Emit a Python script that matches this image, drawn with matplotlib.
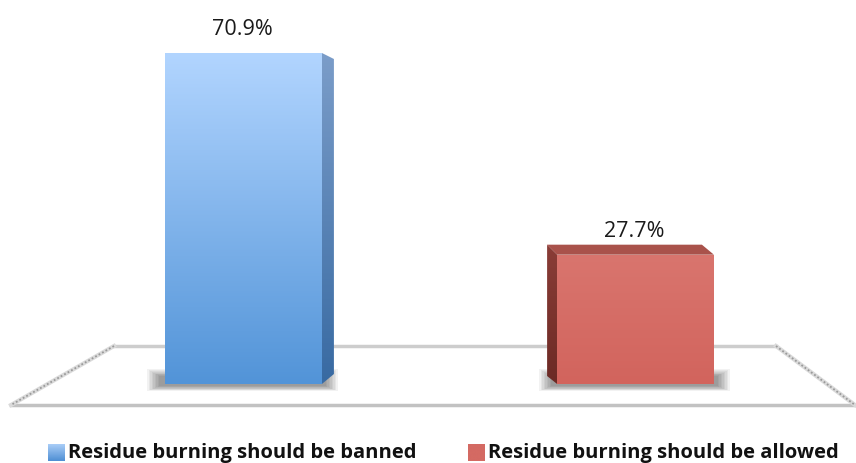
import numpy as np
import matplotlib.pyplot as plt
from matplotlib.patches import Polygon, Rectangle
from matplotlib.colors import LinearSegmentedColormap

# data
labels = ['Residue burning should be banned', 'Residue burning should be allowed']
values = [70.9, 27.7]
value_text = ['70.9%', '27.7%']

# colours (top, bottom) of each bar
front_cols = [('#b2d5ff', '#5294d8'), ('#d9756e', '#d2645d')]
side_cols = [('#7b9dc9', '#386aa2'), ('#8a3d37', '#6c2a25')]
top_cols = ['#9cc4f0', '#a9524b']

W, H = 856, 463
fig = plt.figure(figsize=(W / 100, H / 100), dpi=100)
ax = fig.add_axes([0, 0, 1, 1])
XL = (-0.6212, 1.5625)
YL = (-16.92, 82.25)
ux = (XL[1] - XL[0]) / W   # data units per pixel
uy = (YL[1] - YL[0]) / H

def P(x, y):
    # pixel (from top-left) -> axes fraction
    return (x / W, 1 - y / H)

# floor
floor = [P(114, 346), P(776, 346), P(855, 405), P(11, 405)]
ax.add_patch(Polygon(floor, closed=True, facecolor='white', edgecolor='none',
                     transform=ax.transAxes, zorder=1))
bx, by = zip(*[P(114, 346), P(776, 346)])
ax.plot(bx, by, color='#cdcdcd', lw=2.5, transform=ax.transAxes, zorder=1)
fx, fy = zip(*[P(11, 405), P(855, 405)])
ax.plot(fx, fy, color='#c2c2c2', lw=2.5, transform=ax.transAxes, zorder=1)
for a, b in [(P(114, 346), P(11, 405)), (P(776, 346), P(855, 405))]:
    ax.plot([a[0], b[0]], [a[1], b[1]], color='#dadada', lw=3, transform=ax.transAxes, zorder=1)
    ax.plot([a[0], b[0]], [a[1], b[1]], color='#9a9a9a', lw=1.3, dashes=(1, 1.2),
            transform=ax.transAxes, zorder=1)

bars = ax.bar([0, 1], values, width=0.4, color='none', linewidth=0, zorder=4)

# per bar depth geometry (pixels): side on right for first, left for second
for i, b in enumerate(bars):
    x0, w, h = b.get_x(), b.get_width(), b.get_height()
    x1 = x0 + w
    # shadow
    sl = x0 - 18 * ux
    sr = x1 + 16 * ux
    for k in range(9):
        ax.add_patch(Rectangle((sl + k * 1.5 * ux, -7 * uy + k * 0.6 * uy),
                               (sr - sl) - k * 3 * ux, (22 - k * 1.5) * uy,
                               facecolor='#000000', alpha=0.05, lw=0, zorder=2))
    # front face gradient
    cmap = LinearSegmentedColormap.from_list('f%d' % i, [front_cols[i][1], front_cols[i][0]])
    im = ax.imshow(np.linspace(1, 0, 200).reshape(-1, 1), extent=[x0, x1, 0, h],
                   cmap=cmap, vmin=0, vmax=1, aspect='auto', zorder=4)
    im.set_clip_path(b)
    if i == 0:
        side = Polygon([(x1, 0), (x1, h), (x1 + 12 * ux, h - 6 * uy),
                        (x1 + 12 * ux, 10 * uy)], closed=True, facecolor='none', lw=0, zorder=3)
        ext = [x1, x1 + 12 * ux, 0, h]
    else:
        side = Polygon([(x0, 0), (x0, h), (x0 - 10 * ux, h + 10 * uy),
                        (x0 - 10 * ux, 8 * uy)], closed=True, facecolor='none', lw=0, zorder=3)
        ext = [x0 - 10 * ux, x0, 0, h + 10 * uy]
        top = Polygon([(x0, h), (x0 - 10 * ux, h + 10 * uy), (x1 - 12 * ux, h + 10 * uy),
                       (x1, h)], closed=True, facecolor=top_cols[i], lw=0, zorder=3)
        ax.add_patch(top)
    ax.add_patch(side)
    cmap_s = LinearSegmentedColormap.from_list('s%d' % i, [side_cols[i][1], side_cols[i][0]])
    ims = ax.imshow(np.linspace(1, 0, 200).reshape(-1, 1), extent=ext,
                    cmap=cmap_s, vmin=0, vmax=1, aspect='auto', zorder=3)
    ims.set_clip_path(side)
    ax.annotate(value_text[i], (b.get_x() + w / 2, h), xytext=(-1, 13),
                textcoords='offset points', ha='center', va='baseline',
                fontsize=15.5, family='Open Sans', color='#1a1a1a', zorder=5)

ax.set_xlim(*XL)
ax.set_ylim(*YL)
ax.axis('off')

# legend
leg_x = [48, 468]
leg_cols = [('#a9cdf7', '#4f8fd4'), ('#d46a63', '#d46a63')]
for i, lab in enumerate(labels):
    sq = Rectangle(P(leg_x[i], 461), 17 / W, 17 / H, transform=ax.transAxes,
                   facecolor='none', lw=0, zorder=5)
    ax.add_patch(sq)
    cm = LinearSegmentedColormap.from_list('l%d' % i, [leg_cols[i][1], leg_cols[i][0]])
    a0, b0 = P(leg_x[i], 461)
    a1, b1 = P(leg_x[i] + 17, 444)
    iml = ax.imshow(np.linspace(1, 0, 50).reshape(-1, 1), extent=[a0, a1, b0, b1],
                    transform=ax.transAxes, cmap=cm, vmin=0, vmax=1, aspect='auto', zorder=5)
    iml.set_clip_path(sq)
    tx, ty = P(leg_x[i] + 20, 458)
    ax.text(tx, ty, lab, transform=ax.transAxes, ha='left', va='baseline',
            fontsize=14.5, fontweight='bold', family='Open Sans',
            color='#111111', zorder=5)

ax.set_xlim(*XL)
ax.set_ylim(*YL)
fig.savefig('out.png', dpi=100)
